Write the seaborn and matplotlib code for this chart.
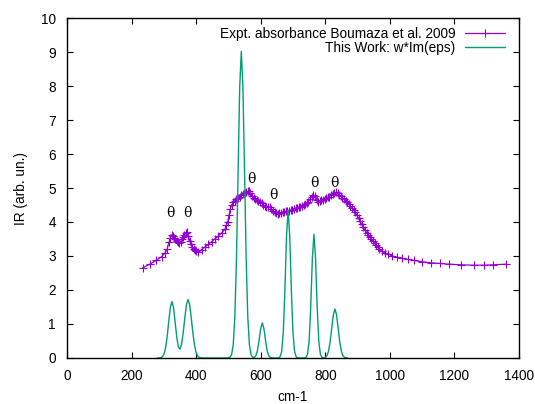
import matplotlib
matplotlib.use('Agg')
import matplotlib.pyplot as plt
import seaborn as sns

sns.set_style('ticks', {'axes.edgecolor': 'black', 'text.color': 'black',
                        'axes.labelcolor': 'black', 'xtick.color': 'black',
                        'ytick.color': 'black',
                        'xtick.direction': 'in', 'ytick.direction': 'in'})
plt.rcParams['font.family'] = ['Liberation Sans', 'DejaVu Sans']
plt.rcParams['font.size'] = 9.8

PURPLE = '#9400d3'
GREEN = '#009e73'

# experimental absorbance, Boumaza et al. 2009
expt_wn = [234, 257, 276, 293, 303, 310, 316, 320, 324, 328,
           332, 336, 340, 344, 348, 352, 356, 360, 364, 368,
           372, 376, 380, 384, 388, 392, 396, 400, 407, 417,
           427, 437, 448, 458, 469, 479, 489, 494, 498, 502,
           506, 510, 515, 520, 525, 530, 535, 540, 545, 550,
           555, 560, 564, 568, 573, 578, 583, 588, 593, 598,
           603, 608, 613, 618, 623, 628, 633, 638, 643, 648,
           653, 658, 663, 668, 673, 678, 683, 688, 693, 698,
           703, 708, 713, 718, 723, 728, 733, 738, 743, 748,
           753, 758, 763, 768, 773, 778, 783, 788, 793, 798,
           803, 808, 813, 818, 823, 828, 833, 838, 843, 848,
           853, 858, 863, 868, 873, 878, 883, 888, 893, 898,
           903, 908, 913, 918, 923, 928, 933, 938, 943, 948,
           953, 958, 963, 968, 975, 985, 995, 1008, 1022, 1038,
           1055, 1075, 1100, 1127, 1155, 1183, 1222, 1261, 1292, 1320,
           1360]
expt_ir = [2.65, 2.76, 2.87, 2.98, 3.08, 3.20, 3.40, 3.52, 3.62, 3.58,
           3.54, 3.50, 3.45, 3.40, 3.38, 3.42, 3.50, 3.55, 3.62, 3.68,
           3.70, 3.60, 3.45, 3.35, 3.27, 3.22, 3.18, 3.15, 3.13, 3.19,
           3.26, 3.34, 3.42, 3.50, 3.59, 3.68, 3.78, 3.90, 4.00, 4.20,
           4.38, 4.50, 4.58, 4.63, 4.67, 4.71, 4.75, 4.79, 4.83, 4.86,
           4.88, 4.90, 4.90, 4.84, 4.77, 4.72, 4.68, 4.65, 4.62, 4.58,
           4.55, 4.51, 4.47, 4.45, 4.44, 4.43, 4.38, 4.33, 4.28, 4.25,
           4.24, 4.25, 4.26, 4.28, 4.30, 4.32, 4.32, 4.33, 4.34, 4.36,
           4.38, 4.40, 4.42, 4.43, 4.45, 4.47, 4.49, 4.52, 4.55, 4.60,
           4.68, 4.74, 4.80, 4.76, 4.66, 4.60, 4.62, 4.64, 4.66, 4.68,
           4.71, 4.73, 4.75, 4.78, 4.81, 4.85, 4.87, 4.85, 4.80, 4.76,
           4.72, 4.68, 4.63, 4.58, 4.53, 4.48, 4.42, 4.36, 4.28, 4.20,
           4.11, 4.02, 3.93, 3.85, 3.77, 3.69, 3.62, 3.55, 3.49, 3.43,
           3.37, 3.31, 3.26, 3.21, 3.15, 3.09, 3.05, 3.00, 2.96, 2.93,
           2.90, 2.87, 2.83, 2.80, 2.78, 2.76, 2.74, 2.73, 2.73, 2.74,
           2.76]

# this work: w*Im(eps), sampled every 5 cm-1 from 280 to 870
calc_wn = list(range(280, 875, 5))
calc_ir = [0, 0.001, 0.006, 0.028, 0.098, 0.271, 0.599, 1.054, 1.482, 1.66,
           1.482, 1.058, 0.616, 0.328, 0.26, 0.407, 0.74, 1.179, 1.565, 1.72,
           1.565, 1.178, 0.734, 0.379, 0.162, 0.057, 0.017, 0.004, 0, 0,
           0, 0, 0, 0, 0, 0, 0, 0, 0, 0,
           0, 0, 0, 0, 0.003, 0.02, 0.1, 0.396, 1.22, 2.93,
           5.47, 7.96, 9.02, 7.96, 5.47, 2.93, 1.22, 0.396, 0.1, 0.02,
           0.017, 0.065, 0.217, 0.516, 0.866, 1.03, 0.866, 0.516, 0.217, 0.065,
           0.014, 0.002, 0, 0, 0, 0.004, 0.033, 0.191, 0.75, 1.99,
           3.58, 4.35, 3.58, 1.99, 0.75, 0.191, 0.033, 0.004, 0, 0,
           0, 0.001, 0.014, 0.104, 0.493, 1.497, 2.915, 3.64, 2.915, 1.497,
           0.493, 0.104, 0.014, 0.004, 0.016, 0.063, 0.195, 0.468, 0.873, 1.271,
           1.44, 1.271, 0.873, 0.468, 0.195, 0.063, 0.016, 0.003, 0]

# theta labels over the experimental bands
theta_wn = [319, 372, 570, 638, 768, 830]
theta_ir = [4.26, 4.26, 5.26, 4.79, 5.15, 5.15]

fig = plt.figure(figsize=(5.35, 4.04), dpi=100)
ax = fig.add_axes([0.1252, 0.1139, 0.8448, 0.8415])

sns.lineplot(x=expt_wn, y=expt_ir, sort=False, color=PURPLE, lw=0.9,
             marker='+', markersize=6, mew=0.8, mec=PURPLE,
             label='Expt. absorbance Boumaza et al. 2009', ax=ax)
sns.lineplot(x=calc_wn, y=calc_ir, sort=False, color=GREEN, lw=1,
             label='This Work: w*Im(eps)', ax=ax)

for xw, yi in zip(theta_wn, theta_ir):
    ax.text(xw, yi, '\u03b8', ha='center', va='center', fontsize=10,
            family=['DejaVu Serif'])

ax.set_xlim(0, 1400)
ax.set_ylim(0, 10)
ax.set_xticks(range(0, 1401, 200))
ax.set_yticks(range(0, 11))
ax.tick_params(direction='in', length=4.5, width=0.8, top=True, right=True,
               pad=8)
for sp in ax.spines.values():
    sp.set_linewidth(1)
    sp.set_visible(True)

ax.set_xlabel('cm-1', labelpad=5)
ax.set_ylabel('IR (arb. un.)', labelpad=9)

ax.legend(loc='upper right', bbox_to_anchor=(0.969, 0.973), frameon=False,
          markerfirst=False, labelspacing=0.0, handlelength=2.9,
          handletextpad=0.75, borderpad=0, borderaxespad=0)

fig.savefig('out.png', dpi=100)
